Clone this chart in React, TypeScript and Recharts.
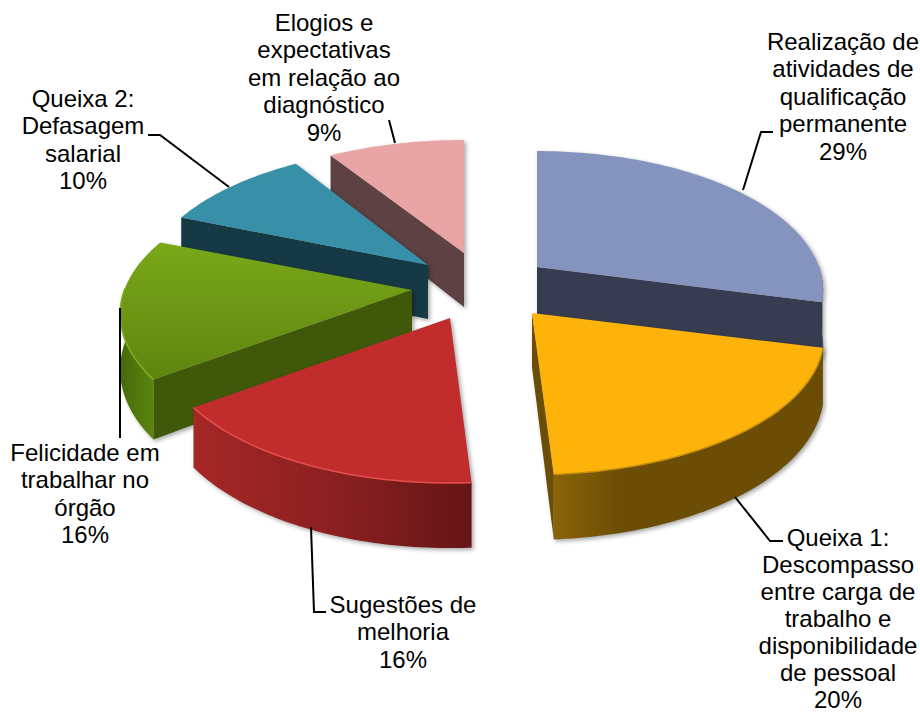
import { PieChart, Pie } from "recharts";

const names = [
  "Realização de atividades de qualificação permanente",
  "Elogios e expectativas em relação ao diagnóstico",
  "Queixa 2: Defasagem salarial",
  "Felicidade em trabalhar no órgão",
  "Sugestões de melhoria",
  "Queixa 1: Descompasso entre carga de trabalho e disponibilidade de pessoal",
];
const shares = [29, 9, 10, 16, 16, 20];
const topColors = ["#8594BE", "#E9A4A5", "#378FA8", "url(#topGreen)", "#C12D2D", "#FDB30A"];
const sideColors = ["#383C50", "#5E4243", "#163A45", "#405809", "#9A1F1F", "#6B4D05"];
const rimFills = ["#383C50", "#5E4243", "#163A45", "url(#rimGreen)", "url(#rimRed)", "url(#rimYellow)"];
const rimLights = ["none", "none", "none", "#86B022", "#E4504E", "#C79010"];

const chartData = names.map((name, i) => ({
  name,
  value: shares[i],
  topColor: topColors[i],
  sideColor: sideColors[i],
  rimFill: rimFills[i],
  rimLight: rimLights[i],
}));

// how far each slice is pulled out of the pie, in pixels
const explode: Record<number, [number, number]> = {
  0: [59, -23],
  1: [-14, -37],
  2: [-50, -25],
  3: [-66, 0],
  4: [-28, 28],
  5: [54, 23],
};

// the reference's perspective is not quite even, so each slice gets a small x/y stretch
const stretch: Record<number, [number, number]> = {
  0: [1, 0.99],
  1: [1.01, 0.965],
  2: [1, 1],
  3: [1.02, 1],
  4: [1.012, 1],
  5: [1.02, 0.98],
};

// wrapped label text, anchor of the first line, line gap and leader line
const labels: Record<number, { lines: string[]; x: number; y: number; gap: number; leader: string }> = {
  0: {
    lines: ["Realização de", "atividades de", "qualificação", "permanente"],
    x: 843,
    y: 50,
    gap: 27.4,
    leader: "743,190 761,132 773,132",
  },
  1: {
    lines: ["Elogios e", "expectativas", "em relação ao", "diagnóstico"],
    x: 324,
    y: 31,
    gap: 27.4,
    leader: "389,120 395,143",
  },
  2: {
    lines: ["Queixa 2:", "Defasagem", "salarial"],
    x: 83,
    y: 107,
    gap: 27.4,
    leader: "229,187 160,135 148,135",
  },
  3: {
    lines: ["Felicidade em", "trabalhar no", "órgão"],
    x: 85,
    y: 461,
    gap: 27.4,
    leader: "120,308 120,438",
  },
  4: {
    lines: ["Sugestões de", "melhoria"],
    x: 403,
    y: 613,
    gap: 27.4,
    leader: "311,527 314,612 326,612",
  },
  5: {
    lines: ["Queixa 1:", "Descompasso", "entre carga de", "trabalho e", "disponibilidade", "de pessoal"],
    x: 838,
    y: 546,
    gap: 27,
    leader: "735,497 770,541 783,541",
  },
};

const TILT = 137 / 282;
const PERSPECTIVE = 0.17;
const DEPTH = 54;
const RAD = Math.PI / 180;

function project(cx: number, cy: number, r: number, deg: number, sx: number, sy: number) {
  const u = Math.cos(deg * RAD);
  const v = -Math.sin(deg * RAD);
  const s = 1 / (1 - PERSPECTIVE * v);
  return { x: cx + r * u * s * sx, y: cy + r * TILT * v * s * sy, drop: DEPTH * s, v };
}

function SliceShape(props: any) {
  const { cx, cy, outerRadius, startAngle, endAngle, payload } = props;
  const index = names.indexOf(payload.name);
  const [dx, dy] = explode[index];
  const [sx, sy] = stretch[index];
  const ax = cx + dx;
  const ay = cy + dy;
  const lo = Math.min(startAngle, endAngle);
  const hi = Math.max(startAngle, endAngle);

  const rim: ReturnType<typeof project>[] = [];
  for (let a = lo; a < hi; a += 1) rim.push(project(ax, ay, outerRadius, a, sx, sy));
  rim.push(project(ax, ay, outerRadius, hi, sx, sy));

  const toStr = (pts: { x: number; y: number }[]) => pts.map((p) => `${p.x},${p.y}`).join(" ");
  const top = toStr([{ x: ax, y: ay }, ...rim]);
  const front = rim.filter((p) => p.v > -0.02);
  const wall = toStr([
    ...front,
    ...[...front].reverse().map((p) => ({ x: p.x, y: p.y + p.drop })),
  ]);

  // a radial wall only shows when it turns towards the viewer
  const radial = (p: ReturnType<typeof project>) =>
    toStr([
      { x: ax, y: ay },
      p,
      { x: p.x, y: p.y + p.drop },
      { x: ax, y: ay + DEPTH },
    ]);
  const cwEnd = 90 - lo;
  const cwStart = 90 - hi;
  const showEnd = Math.sin(cwEnd * RAD) > 0.01;
  const showStart = Math.sin(cwStart * RAD) < -0.01;

  return (
    <g style={{ filter: "drop-shadow(2px 2px 2px rgba(0,0,0,0.35))" }}>
      {showEnd && <polygon points={radial(rim[0])} fill={payload.sideColor} />}
      {showStart && <polygon points={radial(rim[rim.length - 1])} fill={payload.sideColor} />}
      {front.length > 1 && <polygon points={wall} fill={payload.rimFill} />}
      <polygon points={top} fill={payload.topColor} />
      {front.length > 1 && (
        <polyline points={toStr(front)} fill="none" stroke={payload.rimLight} strokeWidth={1.5} />
      )}
    </g>
  );
}

function renderLabel(props: any) {
  const index = names.indexOf(props.name);
  const item = labels[index];
  return (
    <g key={props.name}>
      <polyline points={item.leader} fill="none" stroke="#000" strokeWidth={2} />
      <text
        x={item.x}
        y={item.y}
        textAnchor="middle"
        fontFamily="Liberation Sans, Arial, sans-serif"
        fontSize={24}
        fill="#000"
      >
        {item.lines.map((line, i) => (
          <tspan key={i} x={item.x} dy={i === 0 ? 0 : item.gap}>
            {line}
          </tspan>
        ))}
        <tspan x={item.x} dy={item.gap}>
          {shares[index]}%
        </tspan>
      </text>
    </g>
  );
}

export default function App() {
  return (
    <div style={{ position: "absolute", left: 0, top: 0, width: 920, height: 713, background: "#fff" }}>
      <PieChart width={920} height={713} margin={{ top: 0, right: 0, bottom: 0, left: 0 }}>
        <defs>
          <linearGradient id="topGreen" x1="0" y1="0" x2="0" y2="1">
            <stop offset="0%" stopColor="#7AA819" />
            <stop offset="100%" stopColor="#5E850F" />
          </linearGradient>
          <linearGradient id="rimGreen" x1="0" y1="0" x2="1" y2="0">
            <stop offset="0%" stopColor="#47690A" />
            <stop offset="100%" stopColor="#5B860F" />
          </linearGradient>
          <linearGradient id="rimRed" x1="0" y1="0" x2="1" y2="0">
            <stop offset="0%" stopColor="#A52726" />
            <stop offset="50%" stopColor="#8C2020" />
            <stop offset="100%" stopColor="#651516" />
          </linearGradient>
          <linearGradient id="rimYellow" x1="0" y1="0" x2="1" y2="0">
            <stop offset="0%" stopColor="#8A6408" />
            <stop offset="25%" stopColor="#6B4D05" />
            <stop offset="100%" stopColor="#6B4D05" />
          </linearGradient>
        </defs>
        <Pie
          data={chartData}
          dataKey="value"
          nameKey="name"
          cx={478}
          cy={290}
          innerRadius={0}
          outerRadius={282}
          startAngle={-14.4}
          endAngle={345.6}
          stroke="none"
          shape={SliceShape}
          label={renderLabel}
          labelLine={false}
          isAnimationActive={false}
        />
      </PieChart>
    </div>
  );
}
